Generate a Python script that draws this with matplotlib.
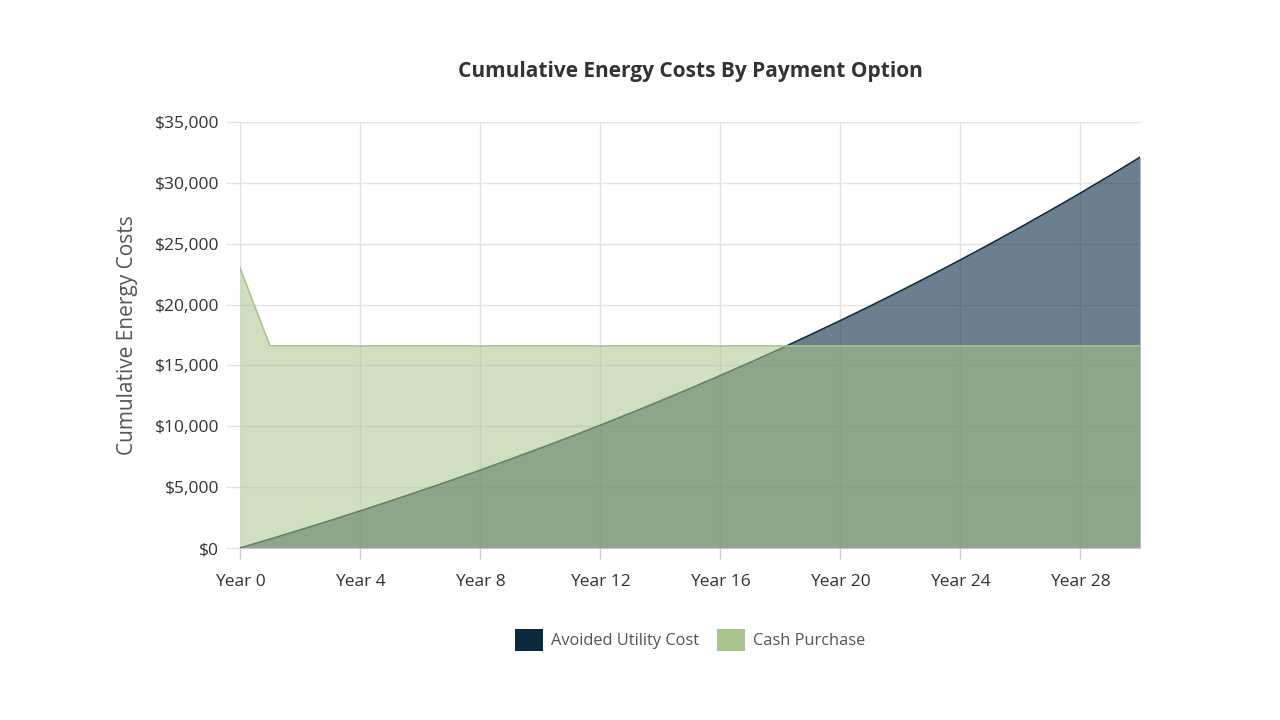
import matplotlib
matplotlib.use("Agg")
import matplotlib.pyplot as plt
from matplotlib.patches import Patch
from matplotlib.ticker import FuncFormatter

years = list(range(0, 31))
avoided_utility_cost = [0, 730, 1480, 2250, 3040, 3850, 4680, 5520, 6390, 7280,
                        8190, 9120, 10080, 11060, 12070, 13100, 14160, 15240, 16350, 17500,
                        18670, 19870, 21100, 22360, 23650, 24970, 26330, 27720, 29140, 30600,
                        32100]
cash_purchase = [23000] + [16600] * 30
xtick_years = [0, 4, 8, 12, 16, 20, 24, 28]
xtick_labels = ["Year %d" % y for y in xtick_years]
yticks = [0, 5000, 10000, 15000, 20000, 25000, 30000, 35000]

plt.rcParams['font.family'] = ['Open Sans', 'DejaVu Sans']

navy = "#0b2a40"
green = "#a8c68c"

fig = plt.figure(figsize=(12.8, 7.2), dpi=100)
ax = fig.add_axes([240/1280, 1-548/720, 900/1280, 426/720])

ax.fill_between(years, avoided_utility_cost, 0, color=navy, alpha=0.6, lw=0, zorder=2)
ax.plot(years, avoided_utility_cost, color=navy, lw=1.2, zorder=3)
ax.fill_between(years, cash_purchase, 0, color=green, alpha=0.55, lw=0, zorder=4)
ax.plot(years, cash_purchase, color=green, lw=1.2, zorder=5)

ax.set_xlim(0, 30)
ax.set_ylim(0, 35000)
ax.set_xticks(xtick_years)
ax.set_xticklabels(xtick_labels)
ax.set_yticks(yticks)
ax.yaxis.set_major_formatter(FuncFormatter(lambda v, p: "${:,.0f}".format(v)))
ax.grid(True, color="#e3e3e3", lw=1, zorder=1)
ax.set_axisbelow(True)
for s in ["top", "right"]:
    ax.spines[s].set_visible(False)
ax.spines["left"].set_color("#e3e3e3")
ax.spines["bottom"].set_color("#cccccc")
ax.tick_params(axis="x", colors="#cccccc", length=8, width=1, labelcolor="#333333", labelsize=12.5, pad=11)
ax.tick_params(axis="y", colors="#e3e3e3", length=10, width=1, labelcolor="#333333", labelsize=12.5, pad=5)

ax.set_ylabel("Cumulative Energy Costs", fontsize=15, color="#555555", labelpad=12)
fig.text(690/1280, 1-72/720, "Cumulative Energy Costs By Payment Option", ha="center", va="center",
         fontsize=15, fontweight="bold", color="#333333")

handles = [Patch(facecolor=navy, edgecolor="none", label="Avoided Utility Cost"),
           Patch(facecolor=green, edgecolor="none", label="Cash Purchase")]
leg = fig.legend(handles=handles, loc="center", bbox_to_anchor=(690/1280, 1-640/720), ncol=2,
                 frameon=False, fontsize=11.8, handlelength=1.7, handleheight=1.7,
                 handletextpad=0.5, columnspacing=1.1)
for t in leg.get_texts():
    t.set_color("#555555")

fig.savefig("out.png", dpi=100)
